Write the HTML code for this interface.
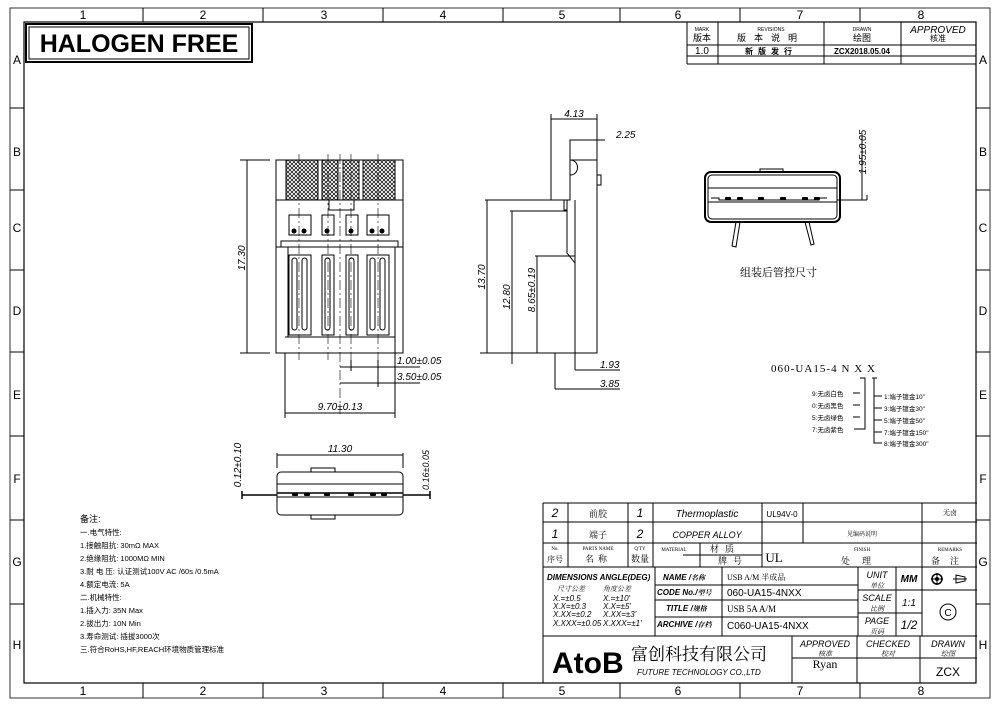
<!DOCTYPE html>
<html><head><meta charset="utf-8"><style>
body{margin:0;background:#fff}
svg{display:block}
text{font-family:"Liberation Sans","Noto Sans CJK SC",sans-serif;fill:#000}
.s{font-family:"Liberation Serif","Noto Serif CJK SC",serif}
</style></head><body>
<svg width="1000" height="706" viewBox="0 0 1000 706" xmlns="http://www.w3.org/2000/svg">
<defs>
<pattern id="h" width="4" height="4" patternUnits="userSpaceOnUse"><path d="M0 0L4 4M4 0L0 4" stroke="#000" stroke-width="0.7"/></pattern>
</defs>
<g fill="none" stroke="#000" stroke-width="1">
<rect x="10" y="8" width="980" height="690" stroke-width="0.8"/>
<rect x="24" y="22" width="952" height="661" stroke-width="1.2"/>
<path d="M143 8v14M263 8v14M383 8v14M503 8v14M620 8v14M740 8v14M860 8v14M143 683v15M263 683v15M383 683v15M503 683v15M620 683v15M740 683v15M860 683v15M10 108h14M10 190h14M10 270h14M10 352h14M10 436h14M10 520h14M10 604h14M976 108h14M976 190h14M976 270h14M976 352h14M976 436h14M976 520h14M976 604h14"/>
<rect x="26" y="24" width="226" height="38" stroke-width="2"/>
<rect x="29" y="27" width="220" height="32"/>
<path d="M687 22v42M718 22v42M824 22v42M901 22v42M687 45h289M687 56h289M687 64h289"/>
<path d="M543 503h434M543 503v180M543 522h434M543 543h434M543 567h434M543 636h434M568 503v64M628 503v64M653 503v64M762 503v64M803 503v40M922 503v64M683 555h79M700 543v24M655 567v69M722 567v69M655 585h203M655 600h203M655 617h203M858 567v69M896 567v69M922 567v69M858 590h119M858 613h64M792 636v47M857 636v47M920 636v47M792 658h185"/>
</g>
<g font-size="12" text-anchor="middle">
<text x="83" y="19">1</text><text x="203" y="19">2</text><text x="324" y="19">3</text><text x="443" y="19">4</text><text x="562" y="19">5</text><text x="678" y="19">6</text><text x="800" y="19">7</text><text x="921" y="19">8</text>
<text x="83" y="695">1</text><text x="203" y="695">2</text><text x="324" y="695">3</text><text x="443" y="695">4</text><text x="562" y="695">5</text><text x="678" y="695">6</text><text x="800" y="695">7</text><text x="921" y="695">8</text>
<text x="17" y="64">A</text><text x="17" y="156">B</text><text x="17" y="232">C</text><text x="17" y="315">D</text><text x="17" y="399">E</text><text x="17" y="483">F</text><text x="17" y="566">G</text><text x="17" y="649">H</text>
<text x="983" y="64">A</text><text x="983" y="156">B</text><text x="983" y="232">C</text><text x="983" y="315">D</text><text x="983" y="399">E</text><text x="983" y="483">F</text><text x="983" y="566">G</text><text x="983" y="649">H</text>
</g>
<text x="139" y="52" font-size="25" font-weight="bold" text-anchor="middle">HALOGEN FREE</text>
<g text-anchor="middle" class="s">
<text x="702" y="31" font-size="5">MARK</text><text x="702" y="41" font-size="9">版本</text>
<text x="771" y="31" font-size="5">REVISIONS</text><text x="771" y="41" font-size="9" letter-spacing="8">版本说明</text>
<text x="862" y="31" font-size="5">DRAWN</text><text x="862" y="41" font-size="9">绘图</text>
<text x="771" y="54" font-size="8" font-weight="bold" letter-spacing="5">新版发行</text>
<text x="938" y="41" font-size="8">核准</text>
</g>
<text x="938" y="33" font-size="10" font-style="italic" text-anchor="middle">APPROVED</text>
<text x="702" y="54" font-size="10" text-anchor="middle">1.0</text>
<text x="862" y="54" font-size="8" font-weight="bold" text-anchor="middle">ZCX2018.05.04</text>

<g font-size="10" text-anchor="middle">
<text x="555" y="517" font-style="italic" font-size="12">2</text><text x="555" y="538" font-style="italic" font-size="12">1</text>
<text x="598" y="517" class="s" font-size="9">前胶</text><text x="598" y="538" class="s" font-size="9">端子</text>
<text x="640" y="517" font-style="italic" font-size="12">1</text><text x="640" y="538" font-style="italic" font-size="12">2</text>
<text x="707" y="517" font-style="italic">Thermoplastic</text><text x="707" y="538" font-style="italic" font-size="9">COPPER ALLOY</text>
<text x="782" y="517" font-size="8">UL94V-0</text>
<text x="862" y="536" class="s" font-size="6">见编码说明</text>
<text x="950" y="515" class="s" font-size="7">无卤</text>
<text x="555" y="550" font-size="5" class="s">No.</text><text x="555" y="562" font-size="8" class="s">序号</text>
<text x="598" y="550" font-size="5" class="s">PARTS NAME</text><text x="598" y="562" font-size="9" class="s" letter-spacing="4">名称</text>
<text x="640" y="550" font-size="5" class="s">Q'TY</text><text x="640" y="562" font-size="9" class="s">数量</text>
<text x="674" y="551" font-size="5" class="s">MATERIAL</text><text x="725" y="552" font-size="9" class="s" letter-spacing="6">材质</text>
<text x="733" y="564" font-size="9" class="s" letter-spacing="6">牌号</text>
<text x="774" y="562" font-size="13" class="s">UL</text>
<text x="862" y="551" font-size="5" class="s">FINISH</text><text x="862" y="564" font-size="9" class="s" letter-spacing="12">处理</text>
<text x="950" y="551" font-size="5" class="s">REMARKS</text><text x="950" y="564" font-size="9" class="s" letter-spacing="10">备注</text>
</g>
<g font-size="8" font-style="italic">
<text x="547" y="580" font-weight="bold">DIMENSIONS ANGLE(DEG)</text>
<text x="557" y="591" class="s" font-size="7">尺寸公差</text><text x="603" y="591" class="s" font-size="7">角度公差</text>
<text x="553" y="601">X.=±0.5</text><text x="603" y="601">X.=±10'</text>
<text x="553" y="609">X.X=±0.3</text><text x="603" y="609">X.X=±5'</text>
<text x="553" y="617">X.XX=±0.2</text><text x="603" y="617">X.XX=±3'</text>
<text x="553" y="626">X.XXX=±0.05</text><text x="603" y="626">X.XXX=±1'</text>
<text x="663" y="580" font-weight="bold">NAME  /<tspan class="s" font-size="7">名称</tspan></text>
<text x="657" y="595" font-weight="bold">CODE No./<tspan class="s" font-size="7">型号</tspan></text>
<text x="666" y="611" font-weight="bold">TITLE  /<tspan class="s" font-size="7">规格</tspan></text>
<text x="657" y="627" font-weight="bold">ARCHIVE /<tspan class="s" font-size="7">存档</tspan></text>
</g>
<text x="727" y="580" font-size="8" class="s" fill="#444">USB A/M 半成品</text>
<text x="727" y="596" font-size="10">060-UA15-4NXX</text>
<text x="727" y="612" font-size="9" class="s">USB 5A A/M</text>
<text x="727" y="629" font-size="10">C060-UA15-4NXX</text>
<g text-anchor="middle" font-style="italic">
<text x="877" y="578" font-size="9">UNIT</text><text x="877" y="588" font-size="7" class="s">单位</text>
<text x="877" y="601" font-size="9">SCALE</text><text x="877" y="611" font-size="7" class="s">比例</text>
<text x="877" y="624" font-size="9">PAGE</text><text x="877" y="634" font-size="7" class="s">页码</text>
<text x="909" y="582" font-size="10" font-weight="bold">MM</text>
<text x="909" y="606" font-size="10">1:1</text>
<text x="909" y="629" font-size="12">1/2</text>
</g>
<circle cx="937" cy="579" r="5" fill="none" stroke="#000" stroke-width="1.5"/><circle cx="937" cy="579" r="2"/>
<path d="M931 579h12M937 573v12M953 579h14M956 575v8l9-2v-4z" fill="none" stroke="#000"/>
<circle cx="948" cy="612" r="8" fill="none" stroke="#000"/><text x="948" y="616" font-size="10" text-anchor="middle">C</text>
<text x="552" y="673" font-size="30" font-weight="bold">AtoB</text>
<text x="631" y="660" font-size="17" class="s">富创科技有限公司</text>
<text x="637" y="675" font-size="8" font-style="italic">FUTURE TECHNOLOGY CO.,LTD</text>
<g text-anchor="middle" font-style="italic">
<text x="825" y="647" font-size="9">APPROVED</text><text x="825" y="656" font-size="7" class="s">核准</text>
<text x="888" y="647" font-size="9">CHECKED</text><text x="888" y="656" font-size="7" class="s">校对</text>
<text x="948" y="647" font-size="9">DRAWN</text><text x="948" y="656" font-size="7" class="s">绘图</text>
</g>
<text x="825" y="668" font-size="12" class="s" text-anchor="middle">Ryan</text>
<text x="948" y="676" font-size="12" text-anchor="middle">ZCX</text>

<g fill="none" stroke="#000" stroke-width="1">
<rect x="276" y="160" width="127" height="193"/>
<path d="M276 200h127M276 247h127M281 247v-6h117v6M285 337h110v16M288 337V247M395 337V247"/>
<rect x="286" y="160" width="32" height="40" fill="url(#h)"/>
<rect x="322" y="160" width="16" height="40" fill="url(#h)"/>
<rect x="343" y="160" width="16" height="40" fill="url(#h)"/>
<rect x="363" y="160" width="32" height="40" fill="url(#h)"/>
<path d="M329 200v10h25v-10"/>
<rect x="289" y="215" width="22" height="20"/><rect x="322" y="215" width="12" height="20"/><rect x="346" y="215" width="12" height="20"/><rect x="367" y="215" width="22" height="20"/>
<rect x="289" y="255" width="22" height="80"/><rect x="322" y="255" width="12" height="80"/><rect x="346" y="255" width="12" height="80"/><rect x="367" y="255" width="22" height="80"/>
<rect x="292" y="258" width="5" height="72" rx="2.5"/><rect x="302" y="258" width="5" height="72" rx="2.5"/><rect x="325" y="258" width="5" height="72" rx="2.5"/><rect x="349" y="258" width="5" height="72" rx="2.5"/><rect x="370" y="258" width="5" height="72" rx="2.5"/><rect x="380" y="258" width="5" height="72" rx="2.5"/>
<path d="M299 154v206M328 154v206M340 154v260M351 154v206M378 154v206" stroke-dasharray="10 3 2 3" stroke-width="0.6"/>
<path d="M270 160h-30M270 353h-30M247 160v193M285 353v65M395 353v65M285 413h110M340 367h8M351 360v11M340 367h80M340 383h80M378 360v27"/>
</g>
<g fill="#000">
<circle cx="294" cy="231" r="2.5"/><circle cx="304" cy="231" r="2.5"/><circle cx="327" cy="231" r="2.5"/><circle cx="351" cy="231" r="2.5"/><circle cx="372" cy="231" r="2.5"/><circle cx="382" cy="231" r="2.5"/>
</g>
<text transform="translate(245 258) rotate(-90)" font-size="10" font-style="italic" text-anchor="middle">17.30</text>
<text x="340" y="410" font-size="10" font-style="italic" text-anchor="middle">9.70±0.13</text>
<text x="397" y="364" font-size="10" font-style="italic">1.00±0.05</text>
<text x="397" y="380" font-size="10" font-style="italic">3.50±0.05</text>

<g fill="none" stroke="#000" stroke-width="1">
<path d="M551 119v81h19v-40h27v193h-22v-90l-8-10v-43h-3v-10"/>
<path d="M570 160v-20h30M551 114v5M597 114v50M551 119h46M597 140h8M567 200v10M575 200v150"/>
<path d="M597 175h4v10h-4"/>
<path d="M570 160c10 0 10 15 0 15"/>
<path d="M485 200h66M510 211h57M535 256h40M487 200v153M512 211v153M537 256v97M480 353h117M555 353v36M575 353v17M575 370h45M555 389h65"/>
</g>
<text x="574" y="117" font-size="10" font-style="italic" text-anchor="middle">4.13</text>
<text x="616" y="138" font-size="10" font-style="italic">2.25</text>
<text transform="translate(485 277) rotate(-90)" font-size="10" font-style="italic" text-anchor="middle">13.70</text>
<text transform="translate(510 297) rotate(-90)" font-size="10" font-style="italic" text-anchor="middle">12.80</text>
<text transform="translate(535 290) rotate(-90)" font-size="10" font-style="italic" text-anchor="middle">8.65±0.19</text>
<text x="600" y="368" font-size="10" font-style="italic">1.93</text>
<text x="600" y="387" font-size="10" font-style="italic">3.85</text>

<g fill="none" stroke="#000">
<rect x="705" y="172" width="135" height="50" rx="6" stroke-width="2"/>
<rect x="708" y="175" width="129" height="44" rx="4"/>
<path d="M760 172v-3h23v3M708 188h129M711 198h8v2h100v-2h8M708 202h129"/>
<path d="M736 222l-4 24l4 1l4-25M805 222l6 23l3-1l-5-22"/>
<path d="M837 200h30M867 195v5M862 135v65"/>
</g>
<g fill="#000"><rect x="725" y="197" width="6" height="3" rx="1"/><rect x="737" y="197" width="6" height="3" rx="1"/><rect x="758" y="197" width="6" height="3" rx="1"/><rect x="780" y="197" width="6" height="3" rx="1"/><rect x="802" y="197" width="6" height="3" rx="1"/><rect x="814" y="197" width="6" height="3" rx="1"/></g>
<text transform="translate(866 152) rotate(-90)" font-size="10" font-style="italic" text-anchor="middle">1.95±0.05</text>
<text x="740" y="276" font-size="11" class="s">组装后管控尺寸</text>

<text x="771" y="372" font-size="11" class="s" textLength="104" lengthAdjust="spacing">060-UA15-4 N X X</text>
<g fill="none" stroke="#000">
<path d="M860 378h5v51h-11M860 393h-7M860 405h-7M860 417h-7"/>
<path d="M872 378h5M874 378v65h8M874 396h8M874 408h8M874 420h8M874 432h8"/>
</g>
<g font-size="6.5" class="s">
<text x="812" y="396">9:无卤白色</text><text x="812" y="408">0:无卤黑色</text><text x="812" y="420">5:无卤绿色</text><text x="812" y="432">7:无卤紫色</text>
<text x="884" y="399">1:端子镀金10"</text><text x="884" y="411">3:端子镀金30"</text><text x="884" y="423">5:端子镀金50"</text><text x="884" y="435">7:端子镀金150"</text><text x="884" y="446">8:端子镀金300"</text>
</g>

<g fill="none" stroke="#000">
<rect x="277" y="472" width="126" height="43" rx="4"/>
<path d="M277 484h126M277 497h126M311 472v-4h24v4M311 515v4h24v-4"/>
<path d="M242 495h35M403 495h27M242 491v8M430 491v8M277 493h126" stroke-width="1.5"/>
<path d="M277 468v-15M403 468v-15M277 455h126"/>
</g>
<g fill="#000"><rect x="292" y="493" width="6" height="3" rx="1"/><rect x="304" y="493" width="6" height="3" rx="1"/><rect x="324" y="493" width="6" height="3" rx="1"/><rect x="348" y="493" width="6" height="3" rx="1"/><rect x="370" y="493" width="6" height="3" rx="1"/><rect x="381" y="493" width="6" height="3" rx="1"/></g>
<text x="340" y="452" font-size="10" font-style="italic" text-anchor="middle">11.30</text>
<text transform="translate(241 465) rotate(-90)" font-size="10" font-style="italic" text-anchor="middle">0.12±0.10</text>
<text transform="translate(429 470) rotate(-90)" font-size="9" font-style="italic" text-anchor="middle">0.16±0.05</text>

<g font-size="7.5" class="s" fill="#333">
<text x="80" y="522" font-size="9">备注:</text>
<text x="80" y="535">一.电气特性:</text>
<text x="80" y="548">1.接触阻抗: 30mΩ MAX</text>
<text x="80" y="561">2.绝缘阻抗: 1000MΩ MIN</text>
<text x="80" y="574">3.耐 电 压: 认证测试100V AC /60s /0.5mA</text>
<text x="80" y="587">4.额定电流: 5A</text>
<text x="80" y="600">二.机械特性:</text>
<text x="80" y="613">1.插入力: 35N Max</text>
<text x="80" y="626">2.拔出力: 10N Min</text>
<text x="80" y="639">3.寿命测试: 插拔3000次</text>
<text x="80" y="652">三.符合RoHS,HF,REACH环境物质管理标准</text>
</g>
</svg>
</body></html>
